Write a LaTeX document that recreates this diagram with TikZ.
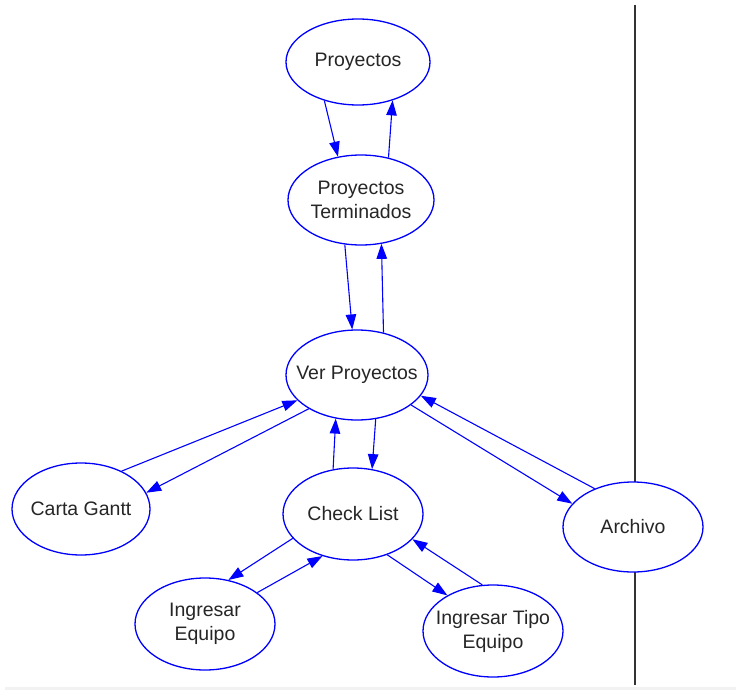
\documentclass[tikz,border=0pt]{standalone}
\usepackage{fontspec}
\setmainfont{Liberation Sans}
\usetikzlibrary{arrows.meta,shapes.geometric}

\definecolor{edgeblue}{RGB}{0,0,255}
\definecolor{bandgray}{RGB}{242,242,242}

\tikzset{
  % negative x separation keeps the ellipse at its minimum size even for wide labels
  state/.style={ellipse, draw=edgeblue, line width=1.3pt, fill=white,
    inner xsep=-20pt, inner ysep=0pt, align=center, text=black!85,
    font=\fontsize{19.5}{24}\selectfont},
  flow/.style={draw=edgeblue, line width=1.1pt,
    -{Triangle[length=15pt,width=10.5pt]}},
  divider/.style={draw=black!80, line width=2pt}
}

\begin{document}
\begin{tikzpicture}[x=1pt,y=-1pt]
  % canvas and bottom strip
  \useasboundingbox (0,0) rectangle (736,690);
  \fill[bandgray] (5,687) rectangle (736,690);

  % vertical divider, drawn before the nodes so Archivo covers it
  \coordinate (divtop) at (634.5,5);
  \coordinate (divbot) at (634.5,685);
  \draw[divider] (divtop) -- (divbot);

  % states
  \node[state, minimum width=144pt, minimum height=86pt] (proy) at (358,62) {Proyectos};
  \node[state, minimum width=146pt, minimum height=90pt] (term) at (361,200) {Proyectos\\Terminados};
  \node[state, minimum width=142pt, minimum height=90pt] (ver)  at (357,375) {Ver Proyectos};
  \node[state, minimum width=138pt, minimum height=92pt] (gantt) at (81,509) {Carta Gantt};
  \node[state, minimum width=140pt, minimum height=92pt] (check) at (353,514) {Check List};
  \node[state, minimum width=140pt, minimum height=90pt] (arch) at (633,527) {Archivo};
  \node[state, minimum width=140pt, minimum height=92pt] (equipo) at (205,624) {Ingresar\\Equipo};
  \node[state, minimum width=140pt, minimum height=92pt] (tipo) at (493,631) {Ingresar Tipo\\Equipo};

  % transitions
  \draw[flow] (proy.-131) -- (term.118.7);
  \draw[flow] (term.57.3) -- (proy.-48.8);
  \draw[flow] (term.-110.7) -- (ver.96.3);
  \draw[flow] (ver.58.8) -- (term.-65.5);
  \draw[flow] (gantt.43.6) -- (ver.-157);
  \draw[flow] (ver.-145) -- (gantt.14.4);
  \draw[flow] (check.114.4) -- (ver.-116.6);
  \draw[flow] (ver.-67.8) -- (check.67.1);
  \draw[flow] (ver.-29.5) -- (arch.159.9);
  \draw[flow] (arch.135.7) -- (ver.-18.2);
  \draw[flow] (check.-158.5) -- (equipo.62.4);
  \draw[flow] (equipo.31.1) -- (check.-126.2);
  \draw[flow] (check.-50.3) -- (tipo.142.9);
  \draw[flow] (tipo.103.4) -- (check.-23.4);
\end{tikzpicture}
\end{document}
